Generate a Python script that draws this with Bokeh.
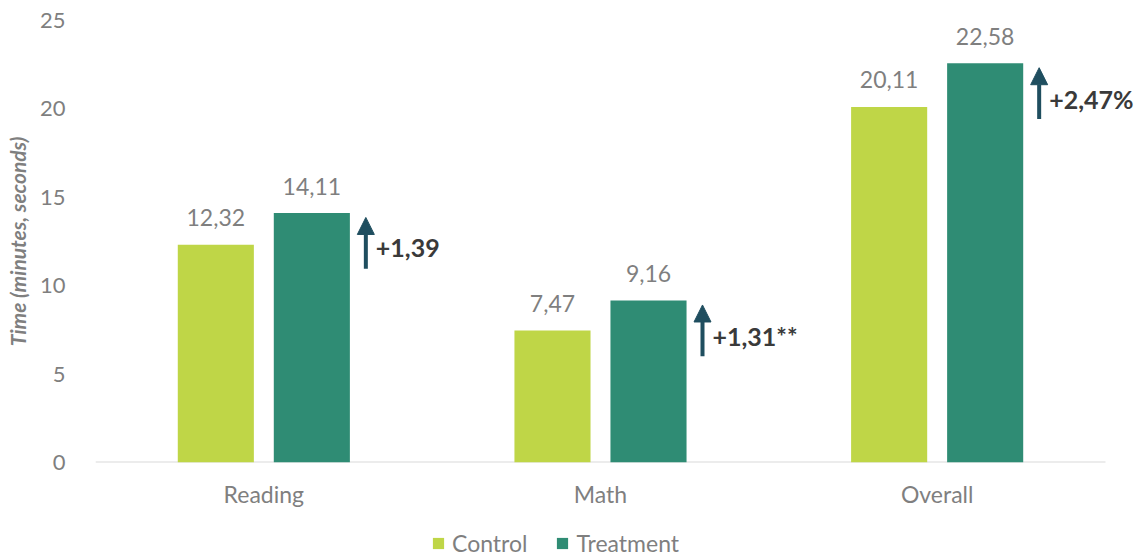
from bokeh.plotting import figure
from bokeh.layouts import column
from bokeh.models import ColumnDataSource, FixedTicker, Legend, LegendItem, Arrow, NormalHead
from bokeh.core.properties import value
from bokeh.embed import file_html
from bokeh.resources import INLINE

categories = ["Reading", "Math", "Overall"]
control = [12.32, 7.47, 20.11]
treatment = [14.11, 9.16, 22.58]
control_labels = ["12,32", "7,47", "20,11"]
treatment_labels = ["14,11", "9,16", "22,58"]
delta_labels = ["+1,39", "+1,31**", "+2,47%"]
y_ticks = [0, 5, 10, 15, 20, 25]

C_CONTROL = "#BFD647"
C_TREAT = "#2F8C74"
C_ARROW = "#1F4E5F"
C_TEXT = "#7F7F7F"
FONT = "Lato"

n = len(categories)
centers = [i + 0.5 for i in range(n)]
off = 0.1426
bw = 0.226
arrow_off = 0.303

p = figure(width=1140, height=519, output_backend="svg", toolbar_location=None,
           x_range=(0, n + 0.104), y_range=(0, 25))
p.min_border_left = 95
p.min_border_right = 0
p.min_border_top = 20
p.min_border_bottom = 57
p.outline_line_color = None
p.xgrid.grid_line_color = None
p.ygrid.grid_line_color = None

# baseline
p.segment(x0=[0], y0=[0], x1=[n], y1=[0], line_color="#D9D9D9", line_width=2)

src_c = ColumnDataSource(dict(x=[c - off for c in centers], top=control, lab=control_labels))
src_t = ColumnDataSource(dict(x=[c + off for c in centers], top=treatment, lab=treatment_labels))

p.vbar(x="x", top="top", width=bw, source=src_c, fill_color=C_CONTROL, line_color=None)
p.vbar(x="x", top="top", width=bw, source=src_t, fill_color=C_TREAT, line_color=None)

for s in (src_c, src_t):
    p.text(x="x", y="top", text="lab", source=s, text_align="center", text_baseline="middle",
           y_offset=-27, text_font=value(FONT), text_font_size="23px", text_color=C_TEXT)

for i, c in enumerate(centers):
    p.add_layout(Arrow(end=NormalHead(size=17, fill_color=C_ARROW, line_color=C_ARROW),
                       x_start=c + arrow_off, y_start=treatment[i] - 3.15,
                       x_end=c + arrow_off, y_end=treatment[i] - 0.25,
                       line_color=C_ARROW, line_width=4))

src_d = ColumnDataSource(dict(x=[c + arrow_off for c in centers],
                              y=[t - 2.0 for t in treatment], lab=delta_labels))
p.text(x="x", y="y", text="lab", source=src_d, text_align="left", text_baseline="middle",
       x_offset=10, text_font=value(FONT), text_font_style="bold", text_font_size="25px",
       text_color="#3A3A3A")

p.xaxis.ticker = FixedTicker(ticks=centers)
p.xaxis.major_label_overrides = {c: name for c, name in zip(centers, categories)}
p.xaxis.major_tick_line_color = None
p.xaxis.minor_tick_line_color = None
p.xaxis.axis_line_color = None
p.xaxis.major_label_standoff = 11
p.xaxis.major_label_text_font = FONT
p.xaxis.major_label_text_font_size = "23px"
p.xaxis.major_label_text_color = C_TEXT

p.yaxis.ticker = FixedTicker(ticks=y_ticks)
p.yaxis.major_tick_line_color = None
p.yaxis.minor_tick_line_color = None
p.yaxis.axis_line_color = None
p.yaxis.major_label_standoff = 24
p.yaxis.major_label_text_font = FONT
p.yaxis.major_label_text_font_size = "22px"
p.yaxis.major_label_text_color = C_TEXT
p.yaxis.axis_label = "Time (minutes, seconds)"
p.yaxis.axis_label_text_font = FONT
p.yaxis.axis_label_text_font_style = "bold italic"
p.yaxis.axis_label_text_font_size = "21px"
p.yaxis.axis_label_text_color = C_TEXT
p.yaxis.axis_label_standoff = 7

# legend strip
p2 = figure(width=1140, height=40, output_backend="svg", toolbar_location=None,
            x_range=(0, 1), y_range=(0, 1))
p2.min_border = 0
p2.outline_line_color = None
p2.axis.visible = False
p2.grid.visible = False
dummy = ColumnDataSource(dict(x=[-10], top=[-10]))
l_c = p2.vbar(x="x", top="top", width=0.1, source=dummy, fill_color=C_CONTROL, line_color=None)
l_t = p2.vbar(x="x", top="top", width=0.1, source=dummy, fill_color=C_TREAT, line_color=None)
legend = Legend(items=[LegendItem(label="Control", renderers=[l_c]),
                       LegendItem(label="Treatment", renderers=[l_t])],
                orientation="horizontal", location=(336, 2),
                label_text_font=FONT, label_text_font_size="23px", label_text_color=C_TEXT,
                glyph_width=14, glyph_height=14, spacing=28, padding=0, margin=0,
                border_line_color=None, background_fill_alpha=0, label_standoff=7)
p2.add_layout(legend, "center")

open("out.html", "w").write(file_html(column(p, p2, spacing=0), INLINE))
